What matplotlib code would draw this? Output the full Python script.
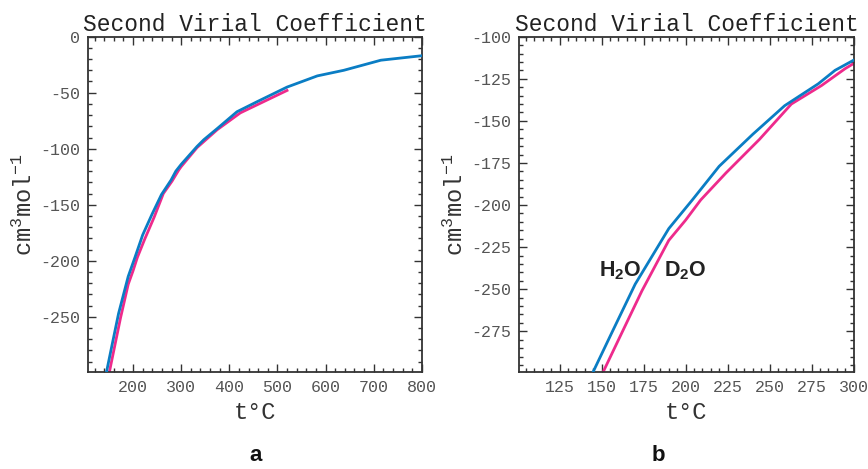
import matplotlib
matplotlib.use("Agg")
import matplotlib.pyplot as plt
from matplotlib.ticker import MultipleLocator

plt.rcParams['font.family'] = ['Liberation Mono', 'DejaVu Sans Mono']
plt.rcParams['mathtext.default'] = 'regular'
plt.rcParams['axes.unicode_minus'] = False

# second virial coefficient (t in degC, B in cm3/mol)
t_h2o = [145, 156, 170, 190, 204, 220, 240, 259, 279, 289, 300,
         333, 347, 375, 416, 458, 520, 583, 638, 715, 800]
b_h2o = [-299, -276, -247, -214, -197, -177, -158, -141, -128, -120, -114,
         -98, -92, -82, -67, -58, -45, -35, -30, -21, -17]

t_d2o = [151, 162, 174, 190, 200, 209, 224, 244, 263, 281, 295, 300,
         333, 375, 423, 486, 520]
b_d2o = [-299, -276, -251, -221, -209, -197, -181, -161, -140, -129, -119, -116,
         -99, -83, -68, -55, -48]

title = "Second Virial Coefficient"
xlab = "t°C"
ylab = "cm$^3$mol$^{-1}$"

blue = "#0a7dc4"
pink = "#ee2a8c"
frame = "#333333"
ticktxt = "#555555"

fig = plt.figure(figsize=(8.68, 4.69), dpi=100)
ax1 = fig.add_axes([0.1017, 0.2075, 0.3842, 0.7143])
ax2 = fig.add_axes([0.5983, 0.2075, 0.3850, 0.7143])


def style(ax, xmaj, xmin, ymaj, ymin):
    ax.xaxis.set_major_locator(MultipleLocator(xmaj))
    ax.xaxis.set_minor_locator(MultipleLocator(xmin))
    ax.yaxis.set_major_locator(MultipleLocator(ymaj))
    ax.yaxis.set_minor_locator(MultipleLocator(ymin))
    ax.tick_params(which='both', direction='in', top=True, right=True,
                   color=frame, width=1.0, labelcolor=ticktxt, labelsize=12)
    ax.tick_params(which='major', length=6, pad=6)
    ax.tick_params(which='minor', length=3)
    for s in ax.spines.values():
        s.set_color(frame)
        s.set_linewidth(1.3)
    ax.set_title(title, fontsize=16.5, color='#222222', pad=4)
    ax.set_xlabel(xlab, fontsize=17, color='#333333', labelpad=4)
    ax.set_ylabel(ylab, fontsize=17, color='#333333', labelpad=2)


ax1.plot(t_h2o, b_h2o, color=blue, lw=2.0, zorder=3)
ax1.plot(t_d2o, b_d2o, color=pink, lw=2.0, zorder=2)
ax1.set_xlim(107, 800)
ax1.set_ylim(-299, 0)
style(ax1, 100, 20, 50, 10)

ax2.plot(t_h2o, b_h2o, color=blue, lw=2.0, zorder=3)
ax2.plot(t_d2o, b_d2o, color=pink, lw=2.0, zorder=2)
ax2.set_xlim(101, 300)
ax2.set_ylim(-299, -100)
style(ax2, 25, 5, 25, 5)

lab = dict(fontsize=15.5, fontweight='bold', color='#222222',
           family=['Liberation Sans', 'DejaVu Sans'], ha='center', va='center')
ax2.text(161, -239, "H$_2$O", **lab)
ax2.text(200, -239, "D$_2$O", **lab)

sub = dict(fontsize=16, fontweight='bold', color='#111111',
           family=['Liberation Sans', 'DejaVu Sans'], ha='center', va='baseline')
fig.text(0.294, 0.016, "a", **sub)
fig.text(0.758, 0.016, "b", **sub)

fig.savefig("out.png", dpi=100)
